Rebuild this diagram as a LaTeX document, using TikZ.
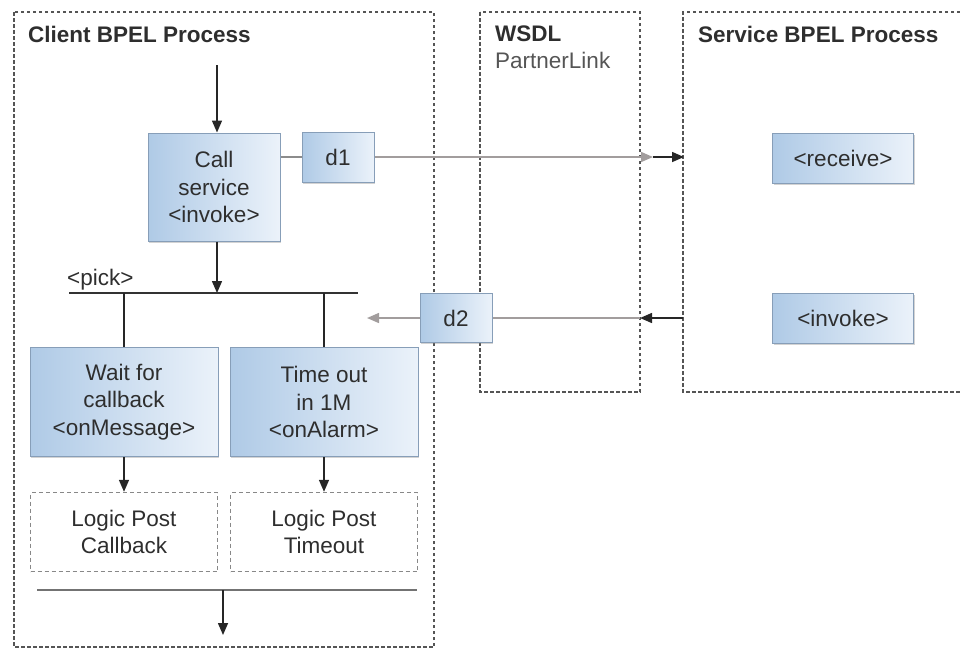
\documentclass[tikz,border=0pt]{standalone}
\usepackage{fontspec}
\setmainfont{Liberation Sans}
\usetikzlibrary{arrows.meta,shadows}
\definecolor{boxleft}{HTML}{AFCAE6}
\definecolor{boxright}{HTML}{EBF2FA}
\definecolor{boxline}{HTML}{879EB8}
\definecolor{txt}{HTML}{2E2E2E}
\definecolor{subtxt}{HTML}{555555}
\definecolor{msgline}{HTML}{A29D9D}
\definecolor{laneline}{HTML}{555555}
\definecolor{postline}{HTML}{888888}
\tikzset{
  every node/.style={font=\fontsize{22.5}{27.5}\selectfont, text=txt},
  lane/.style={draw=laneline, line width=1.4pt, dash pattern=on 3.5pt off 2.5pt},
  lanetitle/.style={anchor=west, inner sep=0pt, font=\fontsize{22.5}{27.5}\selectfont\bfseries},
  lanesub/.style={anchor=west, inner sep=0pt, text=subtxt},
  activity/.style={draw=boxline, line width=1pt, left color=boxleft, right color=boxright,
    align=center, inner sep=0pt,
    drop shadow={shadow xshift=1.2pt, shadow yshift=-1.5pt, opacity=0.35}},
  postbox/.style={draw=postline, line width=1.4pt, dash pattern=on 4pt off 3pt,
    align=center, inner sep=0pt, minimum width=187pt, minimum height=79pt},
  flow/.style={draw=black!85, line width=1.5pt},
  bar/.style={draw=black!80, line width=1.8pt},
  joinbar/.style={draw=black!55, line width=2.2pt},
  msg/.style={draw=msgline, line width=1.5pt},
  link/.style={draw=black!45, line width=1.2pt}
}
\begin{document}
\begin{tikzpicture}[x=1pt, y=-1pt, >={Triangle[length=12pt,width=10pt]}]
\useasboundingbox (0,0) rectangle (960,649);

\draw[lane] (14,12) rectangle (434,647);
\draw[lane] (480,12) rectangle (640,392);
\draw[lane] (960,12) -- (683,12) -- (683,392) -- (960,392);

\node[lanetitle] (clienttitle) at (28,34) {Client BPEL Process};
\node[lanetitle] (wsdltitle) at (495,34) {WSDL};
\node[lanesub] (partnerlink) at (495,60) {PartnerLink};
\node[lanetitle] (svctitle) at (698,34) {Service BPEL Process};

\node[activity, minimum width=132pt, minimum height=108pt] (callsvc) at (214,187) {Call\\service\\<invoke>};
\node[activity, minimum width=72pt, minimum height=50pt] (d1) at (338,157) {d1};
\node[activity, minimum width=72pt, minimum height=49pt] (d2) at (456,318) {d2};
\node[activity, minimum width=141pt, minimum height=50pt] (receive) at (843,158) {<receive>};
\node[activity, minimum width=141pt, minimum height=50pt] (invokesvc) at (843,318) {<invoke>};
\node[activity, minimum width=188pt, minimum height=109pt] (wait) at (124,402) {Wait for\\callback\\<onMessage>};
\node[activity, minimum width=188pt, minimum height=109pt] (timeout) at (324,402) {Time out\\in 1M\\<onAlarm>};
\node[postbox] (postcb) at (124,532) {Logic Post\\Callback};
\node[postbox] (postto) at (324,532) {Logic Post\\Timeout};
\node[anchor=base west, inner sep=0pt] (pick) at (67,285) {<pick>};

\coordinate (start) at (217,65);
\coordinate (pickl) at (69,293);
\coordinate (pickr) at (358,293);
\coordinate (joinl) at (37,590);
\coordinate (joinr) at (417,590);
\coordinate (finish) at (223,635);
\coordinate (wsdlout) at (653,157);
\coordinate (svcin) at (684,157);
\coordinate (svcout) at (683,318);
\coordinate (wsdlin) at (640,318);
\coordinate (d2end) at (367,318);

\draw[flow, ->] (start) -- (start |- callsvc.north);
\draw[flow, ->] (start |- callsvc.south) -- (start |- pickl);
\draw[bar] (pickl) -- (pickr);
\draw[flow] (wait.north |- pickl) -- (wait.north);
\draw[flow] (timeout.north |- pickl) -- (timeout.north);
\draw[flow, ->] (wait.south) -- (postcb.north);
\draw[flow, ->] (timeout.south) -- (postto.north);
\draw[joinbar] (joinl) -- (joinr);
\draw[flow, ->] (finish |- joinl) -- (finish);

\draw[link] (callsvc.east |- d1) -- (d1.west);
\draw[msg, ->] (d1.east) -- (wsdlout);
\draw[flow, ->] (wsdlout) -- (svcin);
\draw[flow, ->] (svcout) -- (wsdlin);
\draw[msg] (wsdlin) -- (d2.east);
\draw[msg, ->] (d2.west) -- (d2end);
\end{tikzpicture}
\end{document}
